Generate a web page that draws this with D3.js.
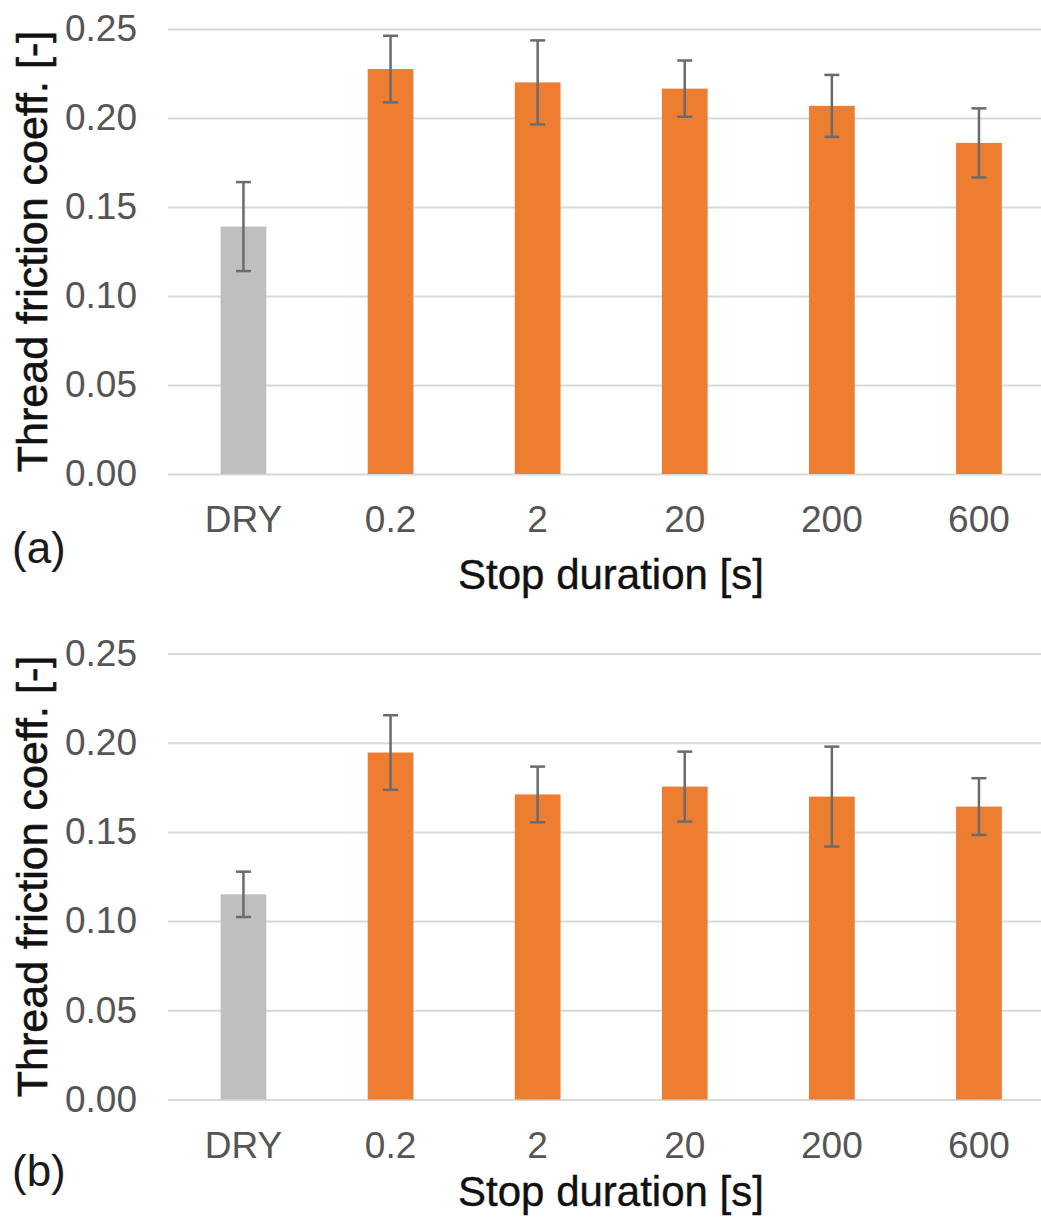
<!DOCTYPE html>
<html>
<head>
<meta charset="utf-8">
<script src="https://cdn.jsdelivr.net/npm/d3@7"></script>
<style>
  html, body { margin: 0; padding: 0; background: #fff; }
  svg { display: block; font-family: "Liberation Sans", Arial, sans-serif; }
</style>
</head>
<body>
<svg id="chart" width="1041" height="1222"></svg>
<script>
// ---- data ----
const categories = ["DRY", "0.2", "2", "20", "200", "600"];
const valuesA = [0.139, 0.2275, 0.220, 0.2165, 0.2068, 0.186];
const errorsA = [0.025, 0.0187, 0.0236, 0.0158, 0.0174, 0.0194];
const valuesB = [0.115, 0.1945, 0.171, 0.1754, 0.1698, 0.1642];
const errorsB = [0.0127, 0.0209, 0.0156, 0.0196, 0.028, 0.0159];
const yTicks = [0, 0.05, 0.10, 0.15, 0.20, 0.25];
const yTitle = "Thread friction coeff. [-]";
const xTitle = "Stop duration [s]";
const panelLabels = ["(a)", "(b)"];

// ---- layout ----
const svg = d3.select("#chart");
svg.append("rect").attr("width", 1041).attr("height", 1222).attr("fill", "#fff");

const plotLeft = 168, plotRight = 1041;
const x = d3.scaleBand()
  .domain(categories)
  .range([169.9, 1052.5])
  .paddingInner(0.689)
  .paddingOuter(0.3445);

function drawPanel(values, errors, top, bottom, label, xTitleY, labelY) {
  const g = svg.append("g");
  const y = d3.scaleLinear().domain([0, 0.25]).range([bottom, top]);

  // gridlines + y tick labels
  const yAxis = d3.axisLeft(y)
    .tickValues(yTicks)
    .tickFormat(d3.format(".2f"))
    .tickSizeInner(-(plotRight - plotLeft))
    .tickSizeOuter(0)
    .tickPadding(31);
  const ya = g.append("g").attr("transform", `translate(${plotLeft},0)`).call(yAxis);
  ya.select(".domain").remove();
  ya.selectAll("line").attr("stroke", "#d9d9d9").attr("stroke-width", 2);
  ya.selectAll("text").attr("fill", "#555").attr("font-size", 37)
    .attr("font-family", '"Liberation Sans", Arial, sans-serif');

  // bars
  g.selectAll("rect.bar").data(values).join("rect")
    .attr("class", "bar")
    .attr("x", (d, i) => x(categories[i]))
    .attr("width", x.bandwidth())
    .attr("y", d => y(d))
    .attr("height", d => y(0) - y(d))
    .attr("fill", (d, i) => i === 0 ? "#bfbfbf" : "#ed7d31");

  // error bars
  const cap = 7.5;
  const eb = g.selectAll("g.err").data(values).join("g").attr("class", "err")
    .attr("stroke", "#6b6b6b").attr("stroke-width", 2.5);
  eb.append("line")
    .attr("x1", (d, i) => x(categories[i]) + x.bandwidth() / 2)
    .attr("x2", (d, i) => x(categories[i]) + x.bandwidth() / 2)
    .attr("y1", (d, i) => y(d + errors[i]))
    .attr("y2", (d, i) => y(d - errors[i]));
  eb.append("line")
    .attr("x1", (d, i) => x(categories[i]) + x.bandwidth() / 2 - cap)
    .attr("x2", (d, i) => x(categories[i]) + x.bandwidth() / 2 + cap)
    .attr("y1", (d, i) => y(d + errors[i]))
    .attr("y2", (d, i) => y(d + errors[i]));
  eb.append("line")
    .attr("x1", (d, i) => x(categories[i]) + x.bandwidth() / 2 - cap)
    .attr("x2", (d, i) => x(categories[i]) + x.bandwidth() / 2 + cap)
    .attr("y1", (d, i) => y(d - errors[i]))
    .attr("y2", (d, i) => y(d - errors[i]));

  // x axis labels
  const xAxis = d3.axisBottom(x).tickSize(0).tickPadding(32);
  const xa = g.append("g").attr("transform", `translate(0,${bottom})`).call(xAxis);
  xa.select(".domain").remove();
  xa.selectAll("text").attr("fill", "#555").attr("font-size", 37)
    .attr("font-family", '"Liberation Sans", Arial, sans-serif');

  // axis titles
  g.append("text")
    .attr("transform", `translate(47,${(top + bottom) / 2}) rotate(-90)`)
    .attr("text-anchor", "middle")
    .attr("font-size", 43)
    .attr("fill", "#111")
    .attr("stroke", "#111").attr("stroke-width", 0.6)
    .text(yTitle);
  g.append("text")
    .attr("x", 611).attr("y", xTitleY)
    .attr("text-anchor", "middle")
    .attr("font-size", 42)
    .attr("fill", "#111")
    .attr("stroke", "#111").attr("stroke-width", 0.4)
    .text(xTitle);

  // panel label
  g.append("text")
    .attr("x", 12).attr("y", labelY)
    .attr("font-size", 44)
    .attr("fill", "#1a1a1a")
    .text(label);
}

drawPanel(valuesA, errorsA, 29, 474, panelLabels[0], 589, 563);
drawPanel(valuesB, errorsB, 653.5, 1099.5, panelLabels[1], 1206, 1186);
</script>
</body>
</html>
